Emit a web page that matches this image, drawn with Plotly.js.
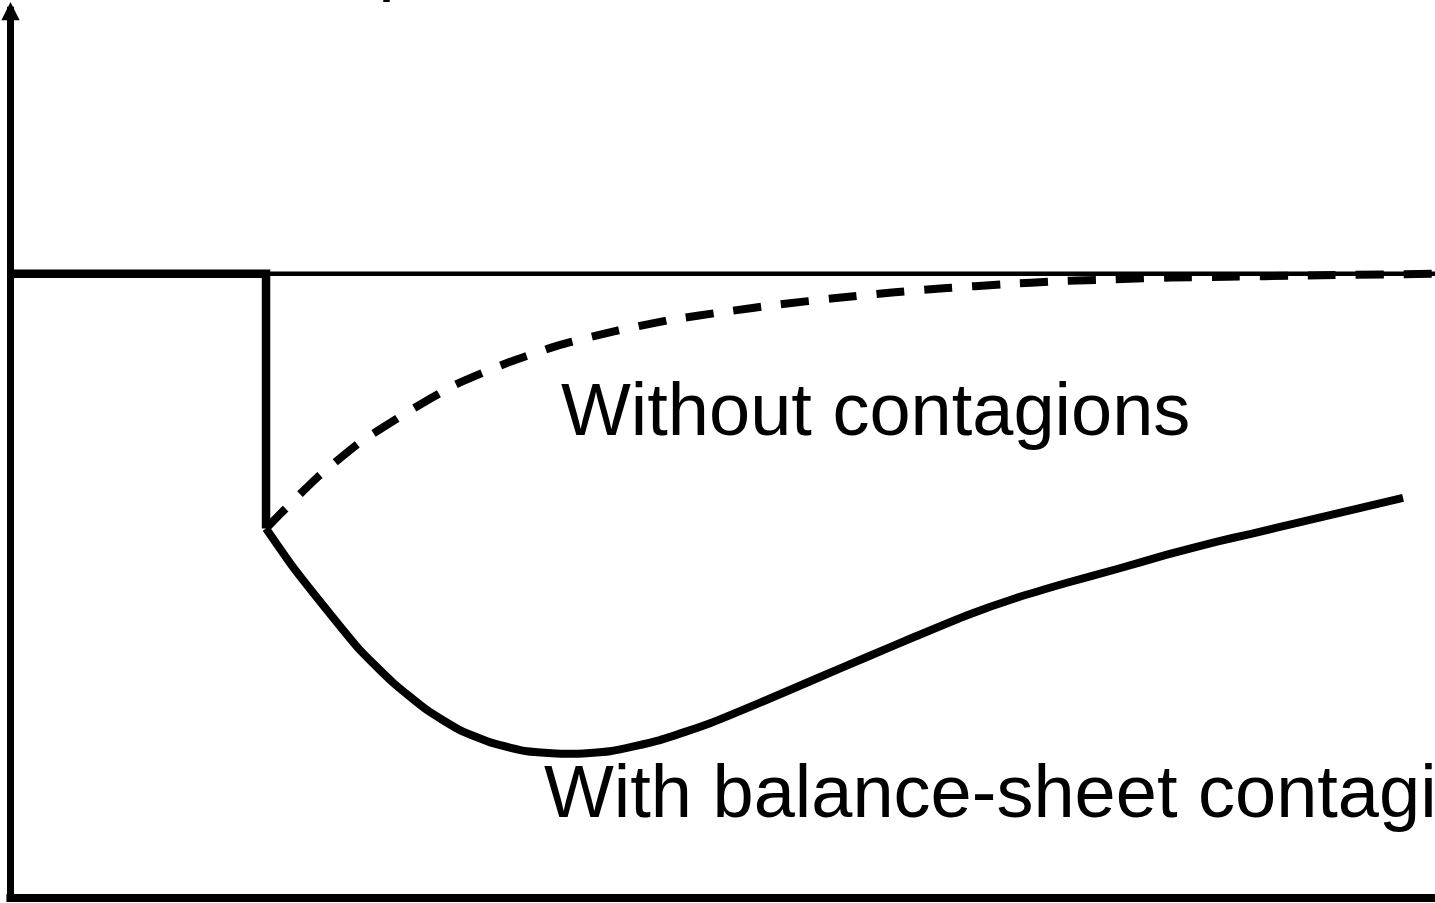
<!DOCTYPE html>
<html>
<head>
<meta charset="utf-8">
<script src="https://cdn.plot.ly/plotly-3.0.1.min.js"></script>
<style>
  html, body { margin: 0; padding: 0; background: #fff; }
  #chart { width: 1435px; height: 903px; }
</style>
</head>
<body>
<div id="chart"></div>
<script>
// OUTPUT PATH AFTER A SHOCK

// trend level before the shock
const trendX = [0, 55.75];
const trendY = [100, 100];

// actual path up to the shock, then the drop
const preShockX = [0, 10, 10];
const preShockY = [100, 100, 59.2];

// recovery without contagions (dashed)
const noContagionX = [10, 10.43, 11.99, 13.68, 15.52, 17.4, 19.43, 21.51, 23.66, 25.81,
  27.96, 30.12, 32.31, 34.5, 36.65, 38.84, 41.04, 43.23, 45.42, 47.61, 50.5, 55.75];
const noContagionY = [59.2, 61.0, 67.3, 73.0, 77.8, 82.2, 85.7, 88.6, 90.8, 92.6,
  93.9, 95.1, 96.1, 97.0, 97.7, 98.3, 98.8, 99.1, 99.4, 99.5, 99.7, 100];

// path with balance-sheet contagion (solid)
const contagionX = [10, 11.06, 12.39, 13.68, 14.97, 16.3, 17.59, 18.88, 20.21, 21.9,
  23.46, 25.42, 27.38, 29.34, 31.57, 33.52, 35.48, 37.44, 39.39, 41.35, 43.31, 45.26,
  47.22, 48.51, 50.48, 54.5];
const contagionY = [59.2, 53.0, 46.1, 39.7, 34.5, 30.1, 26.9, 24.8, 23.5, 23.1,
  23.5, 25.3, 28.0, 31.3, 35.2, 38.6, 42.0, 45.3, 48.1, 50.5, 52.7, 55.0,
  57.1, 58.3, 60.2, 64.1];

// labels
const labelTexts = ['Without contagions', 'With balance-sheet contagion'];
const labelX = [21.45, 20.8];
const labelY = [78.3, 17.1];
const yAxisTitle = 'Output';

const FONT = 'Liberation Sans, Arial, sans-serif';

function initializeChart() {
  Plotly.newPlot('chart',
    [{
      x: trendX,
      y: trendY,
      mode: 'lines',
      type: 'scatter',
      line: { color: 'black', width: 4.5 },
      hoverinfo: 'skip',
    }, {
      x: noContagionX,
      y: noContagionY,
      mode: 'lines',
      type: 'scatter',
      line: { color: 'black', width: 8, dash: '28px,20px', shape: 'spline', smoothing: 0.5 },
      hoverinfo: 'skip',
    }, {
      x: contagionX,
      y: contagionY,
      mode: 'lines',
      type: 'scatter',
      line: { color: 'black', width: 8, shape: 'spline', smoothing: 0.5 },
      hoverinfo: 'skip',
    }, {
      x: preShockX,
      y: preShockY,
      mode: 'lines',
      type: 'scatter',
      line: { color: 'black', width: 8.5 },
      hoverinfo: 'skip',
    }], {
    xaxis: {
      range: [-0.411, 55.75],
      visible: false,
      showgrid: false,
      zeroline: false,
      fixedrange: true,
    },
    yaxis: {
      range: [-0.80, 143.84],
      visible: false,
      showgrid: false,
      zeroline: false,
      fixedrange: true,
    },
    shapes: [{
      // time axis
      type: 'line',
      xref: 'x', yref: 'y',
      x0: -0.16, x1: 55.75, y0: 0, y1: 0,
      line: { color: 'black', width: 8 },
    }],
    annotations: [{
      // vertical axis with arrow
      x: 0, y: 143.5,
      ax: 0, ay: -0.8,
      xref: 'x', yref: 'y', axref: 'x', ayref: 'y',
      text: '',
      showarrow: true,
      arrowhead: 2,
      arrowwidth: 7,
      arrowsize: 0.52,
      arrowcolor: 'black',
    }, {
      x: labelX[0], y: labelY[0],
      xref: 'x', yref: 'y',
      text: labelTexts[0],
      showarrow: false,
      xanchor: 'left', yanchor: 'middle',
      font: { family: FONT, size: 74, color: 'black' },
    }, {
      x: labelX[1], y: labelY[1],
      xref: 'x', yref: 'y',
      text: labelTexts[1],
      showarrow: false,
      xanchor: 'left', yanchor: 'middle',
      font: { family: FONT, size: 74, color: 'black' },
    }, {
      // axis title, mostly above the visible area
      x: 9.65, y: 1.043,
      xref: 'x', yref: 'paper',
      text: yAxisTitle,
      showarrow: false,
      xanchor: 'left', yanchor: 'middle',
      font: { family: FONT, size: 74, color: 'black' },
    }],
    width: 1435,
    height: 903,
    showlegend: false,
    margin: { l: 0, r: 0, b: 0, t: 0, pad: 0 },
    plot_bgcolor: 'white',
    paper_bgcolor: 'white',
  }, {
    staticPlot: true,
  });
}

initializeChart();
</script>
</body>
</html>
